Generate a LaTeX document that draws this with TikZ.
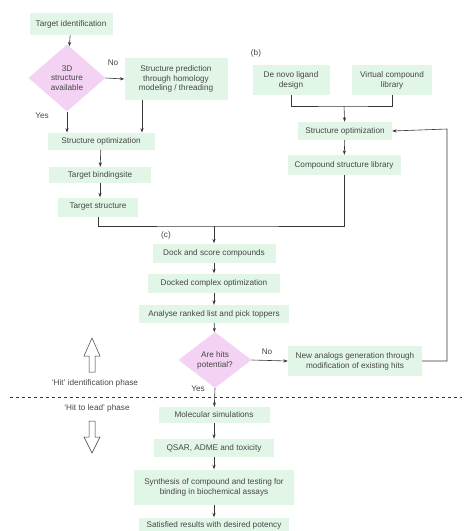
\documentclass[tikz,border=0pt]{standalone}
\usepackage{fontspec}
\setmainfont{Liberation Sans}
\usetikzlibrary{shapes.geometric,arrows.meta}
\definecolor{boxgreen}{RGB}{226,246,232}
\definecolor{diapink}{RGB}{244,210,244}
\definecolor{txtgray}{RGB}{70,70,70}
\definecolor{lngray}{RGB}{55,55,55}
\tikzset{
  box/.style={fill=boxgreen, draw=none, text=txtgray, align=center, inner sep=0pt,
    font=\fontsize{8.2}{9.8}\selectfont},
  dia/.style={diamond, fill=diapink, draw=none, text=txtgray, align=center, inner sep=0pt,
    font=\fontsize{8.2}{9.8}\selectfont},
  lbl/.style={text=txtgray, inner sep=0pt, font=\fontsize{8.2}{9.8}\selectfont},
  arr/.style={draw=lngray, line width=0.6pt, -{Stealth[length=4.5pt,width=3.2pt]}},
  ln/.style={draw=lngray, line width=0.6pt},
  fat/.style={draw=lngray, line width=0.5pt, fill=white}
}
\begin{document}
\begin{tikzpicture}[x=1pt,y=-1pt]
\useasboundingbox (0,0) rectangle (474,531);
% panel a
\node[box, minimum width=83pt, minimum height=22pt] (tid) at (71,24) {Target identification};
\node[dia, minimum width=77pt, minimum height=67pt] (d3) at (67,78) {3D\\structure\\available};
\node[box, minimum width=103pt, minimum height=42pt] (spred) at (176,79) {Structure prediction\\through homology\\modeling / threading};
\node[box, minimum width=107pt, minimum height=17pt] (so1) at (101,141) {Structure optimization};
\node[box, minimum width=102pt, minimum height=16pt] (tbs) at (100,175) {Target bindingsite};
\node[box, minimum width=80pt, minimum height=19pt] (ts) at (98,207) {Target structure};
% panel b
\node[lbl] (lb) at (256,53) {(b)};
\node[box, minimum width=77pt, minimum height=30pt] (dnl) at (291,80) {De novo ligand\\design};
\node[box, minimum width=80pt, minimum height=30pt] (vcl) at (392,80) {Virtual compound\\library};
\node[box, minimum width=94pt, minimum height=18pt] (so2) at (345,131) {Structure optimization};
\node[box, minimum width=113pt, minimum height=20pt] (csl) at (344,165) {Compound structure library};
% panel c
\node[lbl] (lc) at (166,235) {(c)};
\node[box, minimum width=123pt, minimum height=19pt] (dock) at (214,253) {Dock and score compounds};
\node[box, minimum width=132pt, minimum height=19pt] (dco) at (214,283) {Docked complex optimization};
\node[box, minimum width=150pt, minimum height=18pt] (arl) at (214,314) {Analyse ranked list and pick toppers};
\node[dia, minimum width=73pt, minimum height=56pt] (hits) at (215,360) {Are hits\\potential?};
\node[box, minimum width=134pt, minimum height=30pt] (nag) at (355,361) {New analogs generation through\\modification of existing hits};
\node[box, minimum width=111pt, minimum height=16pt] (ms) at (214,415) {Molecular simulations};
\node[box, minimum width=120pt, minimum height=18pt] (qsar) at (214,448) {QSAR, ADME and toxicity};
\node[box, minimum width=160pt, minimum height=35pt] (syn) at (214,487) {Synthesis of compound and testing for\\binding in biochemical assays};
\node[box, minimum width=150pt, minimum height=15pt] (sat) at (214,525) {Satisfied results with desired potency};
% labels
\node[lbl] (no1) at (113,63) {No};
\node[lbl] (yes1) at (42,116) {Yes};
\node[lbl] (no2) at (267,352) {No};
\node[lbl] (yes2) at (198,389) {Yes};
\node[lbl] (hip) at (95,383) {`Hit' identification phase};
\node[lbl] (hlp) at (97,408) {`Hit to lead' phase};
% coordinates
\coordinate (j) at (214,226);
\coordinate (k) at (344,106);
\coordinate (fb) at (447,129);
\coordinate (d3b) at (67,111.5);
\coordinate (so1a) at (67,132.5);
\coordinate (spb) at (142,100);
\coordinate (so1b) at (142,132.5);
% connectors panel a
\draw[arr] (tid) -- (d3);
\draw[arr] (d3.east) -- (spred.west);
\draw[arr] (d3b) -- (so1a);
\draw[arr] (spb) -- (so1b);
\draw[arr] (so1) -- (tbs);
\draw[arr] (tbs) -- (ts.north -| tbs);
\draw[ln] (ts.south) |- (j) -| (csl.south);
\draw[arr] (j) -- (dock);
% panel b
\draw[ln] (dnl.south) |- (k) -| (vcl.south);
\draw[arr] (k) -- (so2);
\draw[arr] (so2) -- (csl);
% panel c
\draw[arr] (dock) -- (dco);
\draw[arr] (dco) -- (arl);
\draw[arr] (arl) -- (hits);
\draw[arr] (hits.east) -- (nag.west);
\draw[arr] (nag.east) -| (fb) -- (so2.east);
\draw[arr] (hits.south) -- (ms);
\draw[arr] (ms) -- (qsar);
\draw[arr] (qsar) -- (syn);
\draw[arr] (syn) -- (sat);
% dashed divider
\draw[draw=lngray, line width=0.6pt, dash pattern=on 3pt off 3pt] (10,397) -- (462,397);
% phase arrows
\draw[fat] (92,338) -- (100,356) -- (95,356) -- (95,372) -- (89,372) -- (89,356) -- (84,356) -- cycle;
\draw[fat] (92,453) -- (100,437) -- (95,437) -- (95,421) -- (89,421) -- (89,437) -- (84,437) -- cycle;
\end{tikzpicture}
\end{document}
